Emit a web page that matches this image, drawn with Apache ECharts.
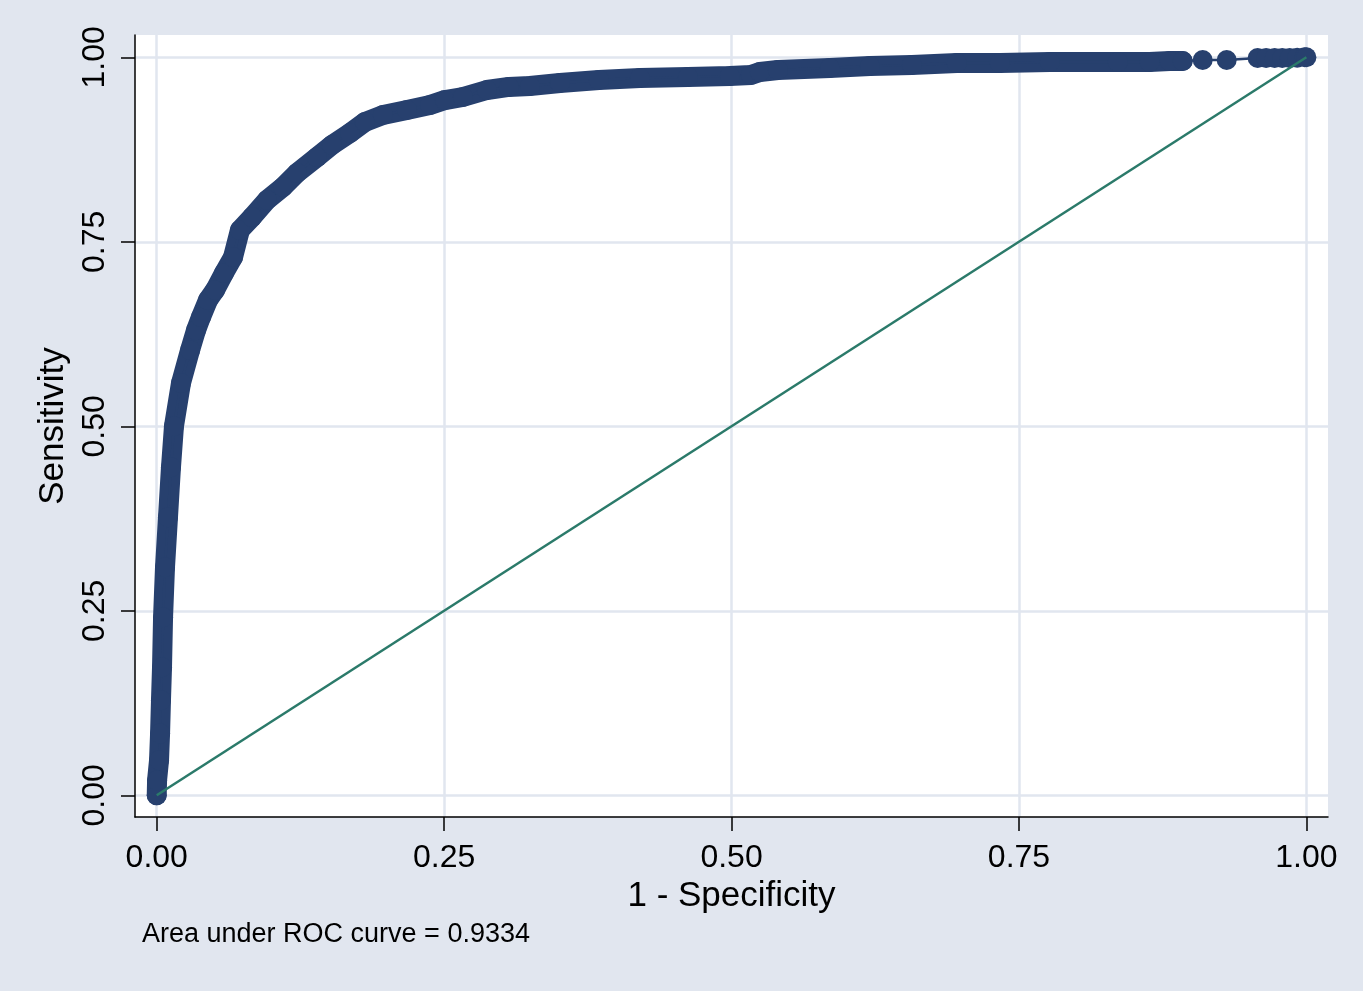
<!DOCTYPE html>
<html>
<head>
<meta charset="utf-8">
<script src="https://cdn.jsdelivr.net/npm/echarts@6/dist/echarts.min.js"></script>
<style>
html,body{margin:0;padding:0;background:#e1e6ef;}
#chart{width:1363px;height:991px;}
</style>
</head>
<body>
<div id="chart"></div>
<script>
// ROC curve points: 1 - Specificity (x) and Sensitivity (y)
const rocFpr = [0.0000,0.0003,0.0020,0.0029,0.0037,0.0046,0.0055,0.0072,0.0098,0.0124,0.0150,0.0211,0.0290,0.0342,0.0385,0.0446,0.0507,0.0585,0.0664,0.0724,0.0829,0.0959,0.1098,0.1220,0.1394,0.1524,0.1681,0.1811,0.1968,0.2177,0.2377,0.2507,0.2663,0.2872,0.3063,0.3246,0.3507,0.3846,0.4203,0.4620,0.4985,0.5168,0.5246,0.5403,0.5855,0.6203,0.6568,0.6959,0.7333,0.7768,0.8359,0.8637,0.8811,0.8924,0.9098,0.9307,0.9576,0.9650,0.9724,0.9790,0.9855,0.9920,0.9985,1.0000];
const rocTpr = [0.0000,0.0203,0.0475,0.0840,0.1288,0.1735,0.2413,0.3091,0.3769,0.4446,0.5002,0.5585,0.6032,0.6303,0.6480,0.6710,0.6846,0.7076,0.7293,0.7659,0.7835,0.8066,0.8242,0.8432,0.8648,0.8811,0.8974,0.9123,0.9218,0.9286,0.9353,0.9421,0.9462,0.9557,0.9598,0.9611,0.9652,0.9693,0.9720,0.9733,0.9747,0.9761,0.9801,0.9828,0.9855,0.9882,0.9896,0.9923,0.9923,0.9936,0.9936,0.9936,0.9950,0.9950,0.9963,0.9963,0.9990,0.9990,0.9990,0.9990,0.9990,0.9995,1.0000,1.0000];
// points up to this 1 - Specificity value are so dense that their markers merge
const denseUntil = 0.8924;
// reference (chance) line
const refX = [0, 1];
const refY = [0, 1];
// ticks
const tickValues = [0, 0.25, 0.5, 0.75, 1];
const xTitle = '1 - Specificity';
const yTitle = 'Sensitivity';
const note = 'Area under ROC curve = 0.9334';

const rocData = rocFpr.map((x, i) => [x, rocTpr[i]]);
const denseData = rocData.filter(p => p[0] <= denseUntil);
const refData = refX.map((x, i) => [x, refY[i]]);

const NAVY = '#27406e';
const GREEN = '#2b7a6a';
const GRID = '#e1e6ef';
const FONT = '"Liberation Sans", Arial, Helvetica, sans-serif';

const chart = echarts.init(document.getElementById('chart'), null, {renderer: 'canvas'});
chart.setOption({
  backgroundColor: '#e1e6ef',
  animation: false,
  grid: {left: 135, right: 35, top: 35, bottom: 174, show: true, backgroundColor: '#ffffff', borderWidth: 0},
  xAxis: {
    type: 'value', min: -0.0189, max: 1.0188,
    name: xTitle, nameLocation: 'middle', nameGap: 52,
    nameTextStyle: {fontFamily: FONT, fontSize: 35, color: '#000'},
    axisLine: {show: true, onZero: false, lineStyle: {color: '#000', width: 1.5}},
    axisTick: {show: true, inside: false, length: 14, customValues: tickValues, lineStyle: {color: '#000', width: 1.5}},
    axisLabel: {customValues: tickValues, margin: 25, fontFamily: FONT, fontSize: 32, color: '#000', formatter: v => v.toFixed(2)},
    splitLine: {show: true, lineStyle: {color: GRID, width: 2.5}}
  },
  yAxis: {
    type: 'value', min: -0.0294, max: 1.0302,
    name: yTitle, nameLocation: 'middle', nameGap: 53,
    nameTextStyle: {fontFamily: FONT, fontSize: 35, color: '#000'},
    axisLine: {show: true, onZero: false, lineStyle: {color: '#000', width: 1.5}},
    axisTick: {show: true, inside: false, length: 14, customValues: tickValues, lineStyle: {color: '#000', width: 1.5}},
    axisLabel: {customValues: tickValues, margin: 24, rotate: 90, fontFamily: FONT, fontSize: 32, color: '#000', formatter: v => v.toFixed(2)},
    splitLine: {show: true, lineStyle: {color: GRID, width: 2.5}}
  },
  series: [
    {
      name: 'band', type: 'line', data: denseData, symbol: 'none', z: 2,
      lineStyle: {color: NAVY, width: 20, cap: 'round', join: 'round'},
      silent: true
    },
    {
      name: 'ROC', type: 'line', data: rocData, symbol: 'circle', symbolSize: 20, showAllSymbol: true, z: 3,
      itemStyle: {color: NAVY, borderWidth: 0},
      lineStyle: {color: NAVY, width: 2.5}
    },
    {
      name: 'Reference', type: 'line', data: refData, symbol: 'none', z: 4,
      lineStyle: {color: GREEN, width: 2.5}
    }
  ],
  graphic: [
    {type: 'text', left: 142, top: 921, style: {text: note, fontFamily: FONT, fontSize: 27, fill: '#000'}}
  ]
});
</script>
</body>
</html>
